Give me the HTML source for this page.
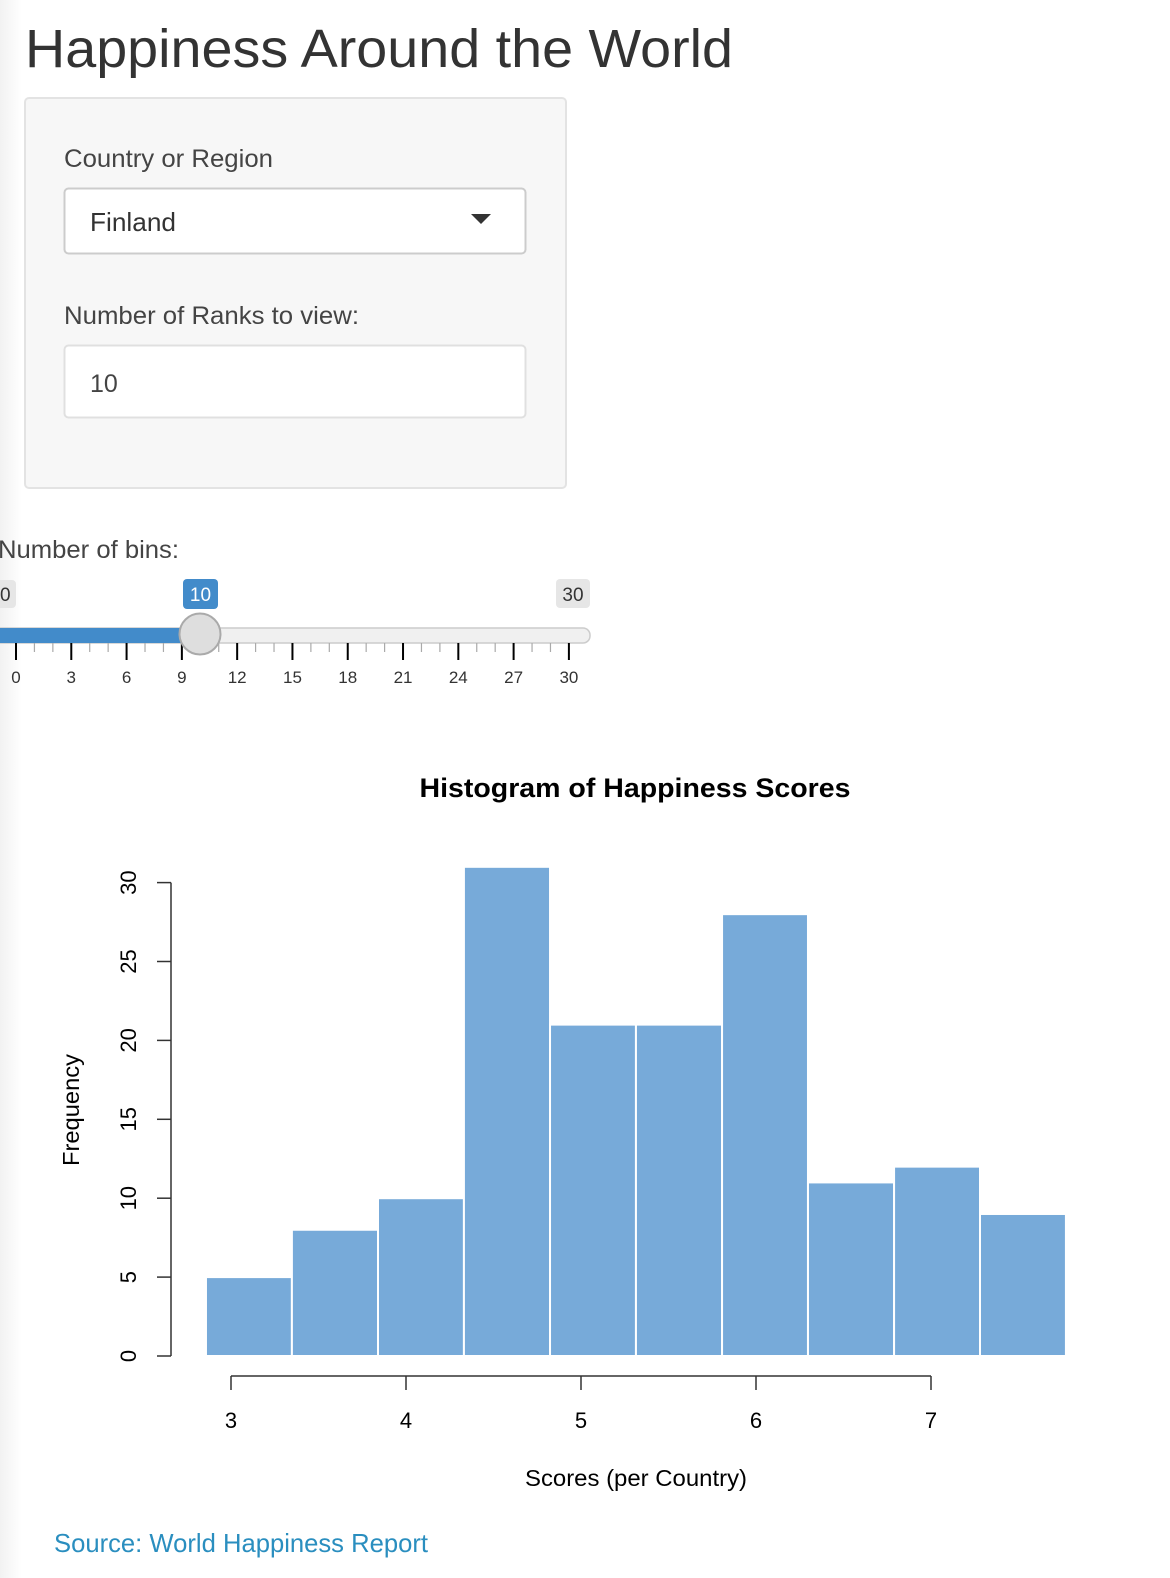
<!DOCTYPE html>
<html><head><meta charset="utf-8"><style>
html,body{margin:0;padding:0;background:#fff;width:1170px;height:1578px;overflow:hidden}
svg{display:block;font-family:"Liberation Sans",sans-serif}
</style></head><body>
<svg id="page" width="1170" height="1578" viewBox="0 0 1170 1578">
<defs><linearGradient id="lg" x1="0" x2="1"><stop offset="0" stop-color="#f2f2f2"/><stop offset="1" stop-color="#fff"/></linearGradient></defs>
<rect x="0" y="0" width="22" height="1578" fill="url(#lg)"/>
<text x="25" y="67" font-size="54" fill="#333" textLength="708" lengthAdjust="spacingAndGlyphs">Happiness Around the World</text>
<g>
<rect x="25" y="98" width="541" height="390" rx="4" fill="#f7f7f7" stroke="#e3e3e3" stroke-width="2"/>
<text x="64" y="167" font-size="25" fill="#444" textLength="209" lengthAdjust="spacingAndGlyphs">Country or Region</text>
<g>
<rect x="64.5" y="188.5" width="461" height="65" rx="4" fill="#fff" stroke="#ccc" stroke-width="2"/>
<text x="90" y="231" font-size="26" fill="#333" textLength="86" lengthAdjust="spacingAndGlyphs">Finland</text>
<path d="M471 214 L491 214 L481 224 Z" fill="#333"/>
</g>
<text x="64" y="324" font-size="25" fill="#444" textLength="295" lengthAdjust="spacingAndGlyphs">Number of Ranks to view:</text>
<g>
<rect x="64.5" y="345.5" width="461" height="72" rx="4" fill="#fff" stroke="#e0e0e0" stroke-width="2"/>
<text x="90" y="392" font-size="25" fill="#444">10</text>
</g>
</g>
<text x="-2" y="558" font-size="25" fill="#444" textLength="181" lengthAdjust="spacingAndGlyphs">Number of bins:</text>
<g id="slider">
<rect x="-10" y="580" width="26" height="28" rx="4" fill="#e6e6e6"/>
<text x="0" y="601" font-size="19" fill="#333">0</text>
<rect x="183" y="579" width="35" height="30" rx="4" fill="#428bca"/>
<text x="200.5" y="601" font-size="19" fill="#fff" text-anchor="middle">10</text>
<rect x="556" y="579" width="34" height="29" rx="4" fill="#e6e6e6"/>
<text x="573" y="601" font-size="19" fill="#333" text-anchor="middle">30</text>
<rect x="-10" y="628" width="600" height="15" rx="7" fill="#f0f0f0" stroke="#ccc" stroke-width="1.5"/>
<rect x="-10" y="628" width="210" height="15" fill="#428bca"/>
<g id="sticks"></g>
<circle cx="200" cy="634" r="20.5" fill="#dedede" stroke="#aaa" stroke-width="2"/>
</g>
<g id="chart">
<text x="635" y="797" font-size="27" font-weight="bold" text-anchor="middle" fill="#000" textLength="431" lengthAdjust="spacingAndGlyphs">Histogram of Happiness Scores</text>
<g id="bars"></g>
<g id="yaxis"></g>
<g id="xaxis"></g>
<text x="636" y="1486" font-size="23" text-anchor="middle" fill="#000" textLength="222" lengthAdjust="spacingAndGlyphs">Scores (per Country)</text>
<text transform="translate(79,1110) rotate(-90)" font-size="23" text-anchor="middle" fill="#000" textLength="112" lengthAdjust="spacingAndGlyphs">Frequency</text>
</g>
<text x="54" y="1552" font-size="26" fill="#2a8ebf" textLength="374" lengthAdjust="spacingAndGlyphs">Source: World Happiness Report</text>
</svg>
<script>
const breaks = [2.857, 3.348, 3.840, 4.331, 4.823, 5.314, 5.806, 6.297, 6.789, 7.280, 7.771];
const counts = [5, 8, 10, 31, 21, 21, 28, 11, 12, 9];
const yTicks = [0, 5, 10, 15, 20, 25, 30];
const xTicks = [3, 4, 5, 6, 7];
const sliderTicks = [0, 3, 6, 9, 12, 15, 18, 21, 24, 27, 30];

const NS = "http://www.w3.org/2000/svg";
const xS = v => 231 + (v - 3) * 175;
const yS = v => 1356 - v * 15.78;
const sS = v => 16 + v * 18.43;
function mk(tag, attrs, parent){const e=document.createElementNS(NS,tag);for(const k in attrs)e.setAttribute(k,attrs[k]);parent.appendChild(e);return e;}

const bars = document.getElementById('bars');
counts.forEach((c,i)=>{
  const x0=xS(breaks[i]), x1=xS(breaks[i+1]);
  const r=mk('rect',{x:x0,y:yS(c),width:x1-x0,height:yS(0)-yS(c),fill:'#77aad9',stroke:'#fff','stroke-width':2},bars);
  
  
});

const ya = document.getElementById('yaxis');
mk('line',{x1:171,x2:171,y1:yS(yTicks[0]),y2:yS(yTicks[yTicks.length-1]),stroke:'#333','stroke-width':1.5},ya);
yTicks.forEach(t=>{
  mk('line',{x1:157,x2:171,y1:yS(t),y2:yS(t),stroke:'#333','stroke-width':1.5},ya);
  const tx=mk('text',{transform:`translate(136,${yS(t)}) rotate(-90)`,'font-size':22,'text-anchor':'middle',fill:'#000'},ya);
  tx.textContent=t;
  
  
});

const xa = document.getElementById('xaxis');
mk('line',{x1:xS(xTicks[0]),x2:xS(xTicks[xTicks.length-1]),y1:1376,y2:1376,stroke:'#333','stroke-width':1.5},xa);
xTicks.forEach(t=>{
  mk('line',{x1:xS(t),x2:xS(t),y1:1376,y2:1390,stroke:'#333','stroke-width':1.5},xa);
  const tx=mk('text',{x:xS(t),y:1428,'font-size':22,'text-anchor':'middle',fill:'#000'},xa);
  tx.textContent=t;
  
  
});

const st = document.getElementById('sticks');
for(let v=0; v<=30; v++){
  const major = v%3===0;
  mk('line',{x1:sS(v),x2:sS(v),y1:643,y2:major?660:652,stroke:major?'#000':'#aaa','stroke-width':major?2:1.2},st);
}
sliderTicks.forEach(t=>{
  const tx=mk('text',{x:sS(t),y:683,'font-size':17,'text-anchor':'middle',fill:'#333'},st);
  tx.textContent=t;
  
  
});
</script>
</body></html>
